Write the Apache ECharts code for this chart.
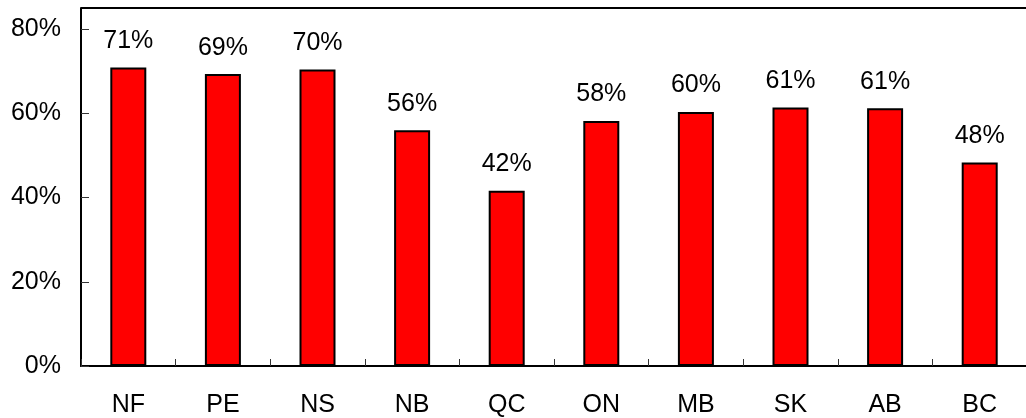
<!DOCTYPE html>
<html>
<head>
<meta charset="utf-8">
<script src="https://cdn.jsdelivr.net/npm/echarts@6/dist/echarts.min.js"></script>
<style>
  html, body { margin: 0; padding: 0; background: #fff; }
  #chart { width: 1026px; height: 418px; }
</style>
</head>
<body>
<div id="chart"></div>
<script>
// Provinces and their shares (percent)
const provinces = ['NF', 'PE', 'NS', 'NB', 'QC', 'ON', 'MB', 'SK', 'AB', 'BC'];
const shares = [70.9, 69.3, 70.4, 56.0, 41.6, 58.2, 60.3, 61.4, 61.2, 48.3];
const yTicks = [0, 20, 40, 60, 80];
const yMax = 85;

const font = 'Liberation Sans, Arial, Helvetica, sans-serif';

const chart = echarts.init(document.getElementById('chart'), null, { renderer: 'canvas' });
chart.setOption({
  animation: false,
  backgroundColor: '#fff',
  grid: {
    left: 81, right: -1, top: 8, bottom: 52,
    outerBoundsMode: 'none',
    containLabel: false
  },
  xAxis: {
    type: 'category',
    data: provinces,
    axisLine: { lineStyle: { color: '#000', width: 2 } },
    axisTick: { show: true, inside: true, length: 7, lineStyle: { color: '#333', width: 1 } },
    axisLabel: { color: '#000', fontFamily: font, fontSize: 25, margin: 27 }
  },
  yAxis: {
    type: 'value',
    min: 0, max: yMax, interval: 20,
    splitLine: { show: false },
    axisLine: { show: true, lineStyle: { color: '#000', width: 2 } },
    axisTick: { show: true, inside: true, length: 8, lineStyle: { color: '#333', width: 1 } },
    axisLabel: {
      color: '#000', fontFamily: font, fontSize: 25, margin: 20,
      showMaxLabel: false,
      formatter: v => yTicks.includes(v) ? v + '%' : ''
    }
  },
  series: [{
    type: 'bar',
    data: shares,
    barWidth: 36,
    itemStyle: { color: '#ff0000', borderColor: '#000', borderWidth: 2 },
    label: {
      show: true, position: 'top', distance: 14,
      color: '#000', fontFamily: font, fontSize: 25,
      formatter: p => Math.round(p.value) + '%'
    },
    // frame line along the top of the plot, at the axis maximum
    markLine: {
      silent: true,
      symbol: 'none',
      label: { show: false },
      lineStyle: { color: '#000', width: 2, type: 'solid' },
      data: [{ yAxis: yMax }]
    }
  }]
});
</script>
</body>
</html>
